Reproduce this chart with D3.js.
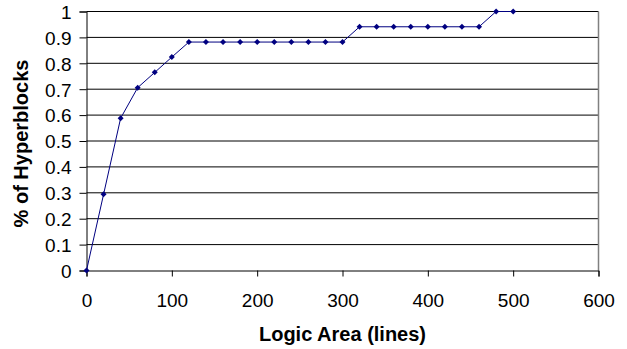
<!DOCTYPE html>
<html>
<head>
<meta charset="utf-8">
<script src="https://cdn.jsdelivr.net/npm/d3@7"></script>
<style>
  body { margin: 0; background: #fff; }
  svg { display: block; font-family: "Liberation Sans", Arial, sans-serif; }
</style>
</head>
<body>
<svg></svg>
<script>
// logic area (lines) vs fraction of hyperblocks
const areas = [0, 20, 40, 60, 80, 100, 120, 140, 160, 180, 200, 220, 240, 260, 280, 300,
    320, 340, 360, 380, 400, 420, 440, 460, 480, 500];
const fractions = [0, 0.294, 0.588, 0.706, 0.765, 0.824, 0.882, 0.882, 0.882, 0.882, 0.882,
    0.882, 0.882, 0.882, 0.882, 0.882, 0.941, 0.941, 0.941, 0.941, 0.941, 0.941, 0.941, 0.941, 1, 1];
const xTicks = [0, 100, 200, 300, 400, 500, 600];
const yTicks = [0, 0.1, 0.2, 0.3, 0.4, 0.5, 0.6, 0.7, 0.8, 0.9, 1];

const width = 627, height = 349;
const svg = d3.select('svg').attr('width', width).attr('height', height);

const x = d3.scaleLinear().domain([0, 600]).range([86.5, 598.5]);
const y = d3.scaleLinear().domain([0, 1]).range([270.5, 11.5]);

// gridlines
svg.append('g')
    .selectAll('line')
    .data(yTicks.slice(1))
    .enter()
    .append('line')
    .attr('x1', x(0)).attr('x2', x(600))
    .attr('y1', d => y(d)).attr('y2', d => y(d))
    .attr('stroke', '#000').attr('stroke-width', 1);

// right border
svg.append('line')
    .attr('x1', x(600)).attr('x2', x(600))
    .attr('y1', y(1)).attr('y2', y(0))
    .attr('stroke', '#808080').attr('stroke-width', 1.5);

const xAxis = svg.append('g')
    .attr('transform', `translate(0,${y(0)})`)
    .call(d3.axisBottom(x).tickValues(xTicks).tickSize(6).tickPadding(17).tickFormat(d3.format('d')));
const yAxis = svg.append('g')
    .attr('transform', `translate(${x(0)},0)`)
    .call(d3.axisLeft(y).tickValues(yTicks).tickSize(7).tickPadding(8).tickFormat(d => d3.format('')(+d.toFixed(1))));

[xAxis, yAxis].forEach(a => {
    a.select('.domain').attr('stroke', '#000');
    a.selectAll('line').attr('stroke', '#000');
    a.selectAll('text').attr('font-size', '19px').attr('fill', '#000')
        .attr('font-family', '"Liberation Sans", Arial, sans-serif');
});
yAxis.selectAll('text').attr('dy', '0.36em');

// series line
const line = d3.line()
    .x((d, i) => x(areas[i]))
    .y(d => y(d));
svg.append('path')
    .datum(fractions)
    .attr('d', line)
    .attr('fill', 'none')
    .attr('stroke', '#000080')
    .attr('stroke-width', 1);

// diamond markers
svg.append('g')
    .selectAll('path')
    .data(fractions)
    .enter()
    .append('path')
    .attr('transform', (d, i) => `translate(${x(areas[i])},${y(d)})`)
    .attr('d', 'M0,-3L3,0L0,3L-3,0Z')
    .attr('fill', '#000080');

// axis titles
svg.append('text')
    .attr('x', 342.5).attr('y', 341)
    .attr('text-anchor', 'middle')
    .attr('font-size', '20px').attr('font-weight', 'bold')
    .text('Logic Area (lines)');
svg.append('text')
    .attr('transform', 'translate(28,143.5) rotate(-90)')
    .attr('text-anchor', 'middle')
    .attr('font-size', '20px').attr('font-weight', 'bold')
    .text('% of Hyperblocks');
</script>
</body>
</html>
